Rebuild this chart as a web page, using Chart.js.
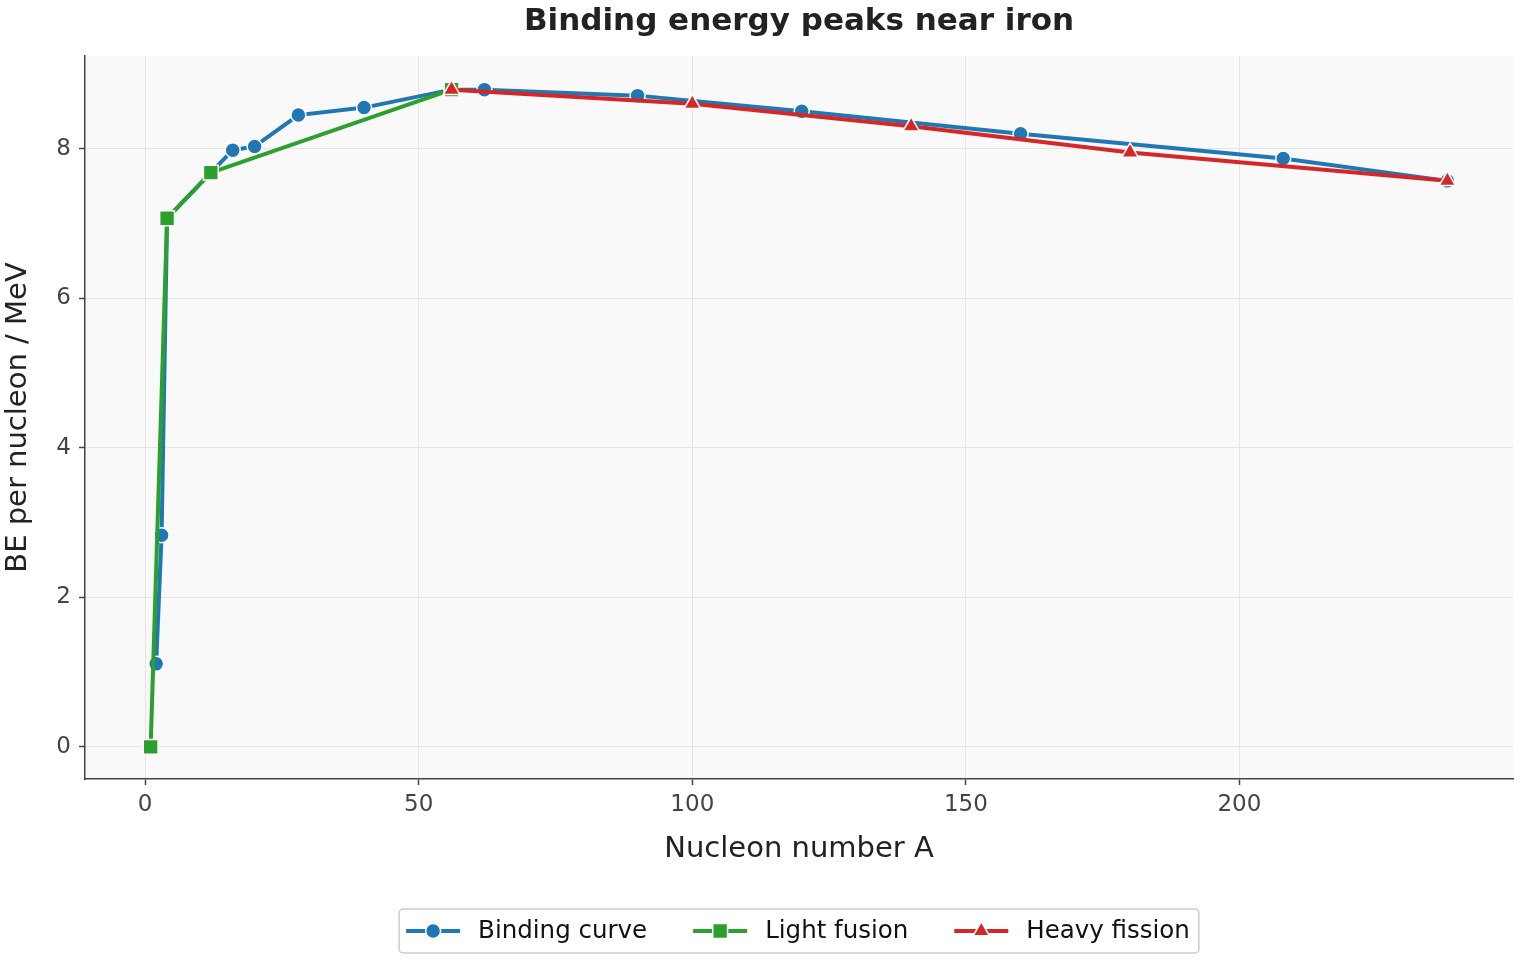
<!DOCTYPE html>
<html>
<head>
<meta charset="utf-8">
<script src="https://cdn.jsdelivr.net/npm/chart.js@4.4.1/dist/chart.umd.min.js"></script>
<style>
  html, body { margin: 0; padding: 0; background: #fff; }
</style>
</head>
<body>
<canvas id="chart1" width="1520" height="960"></canvas>
<script>
// data
const bindingA = [2, 3, 4, 12, 16, 20, 28, 40, 56, 62, 90, 120, 160, 208, 238]
const bindingBE = [1.11, 2.83, 7.07, 7.68, 7.98, 8.03, 8.45, 8.55, 8.79, 8.79, 8.71, 8.5, 8.2, 7.87, 7.57]
const fusionA = [1, 4, 12, 56]
const fusionBE = [0, 7.07, 7.68, 8.79]
const fissionA = [56, 100, 140, 180, 238]
const fissionBE = [8.79, 8.6, 8.3, 7.95, 7.57]
const xTicks = [0, 50, 100, 150, 200]
const yTicks = [0, 2, 4, 6, 8]

const FONT = "'DejaVu Sans', sans-serif"

function pts(xs, ys) {
    return xs.map((x, i) => ({ x: x, y: ys[i] }))
}

function drawMarker(ctx, style, x, y, r, color) {
    ctx.save()
    ctx.fillStyle = color
    ctx.strokeStyle = '#fff'
    ctx.lineWidth = 1.5
    ctx.beginPath()
    if (style == 'circle') {
        ctx.arc(x, y, r, 0, Math.PI * 2)
    } else if (style == 'rect') {
        const s = r * Math.SQRT1_2
        ctx.rect(x - s, y - s, 2 * s, 2 * s)
    } else {
        for (let k = 0; k < 3; k++) {
            const a = k * Math.PI * 2 / 3
            const px = x + Math.sin(a) * r
            const py = y - Math.cos(a) * r
            if (k == 0) ctx.moveTo(px, py); else ctx.lineTo(px, py)
        }
        ctx.closePath()
    }
    ctx.fill()
    ctx.stroke()
    ctx.restore()
}

// grey plot background
const plotBg = {
    id: 'plotBg',
    beforeDraw(chart) {
        const a = chart.chartArea
        const ctx = chart.ctx
        ctx.save()
        ctx.fillStyle = '#f9f9f9'
        ctx.fillRect(a.left, a.top, a.right - a.left, a.bottom - a.top)
        ctx.restore()
    }
}

// matplotlib style legend: line + marker, boxed
const boxLegend = {
    id: 'boxLegend',
    afterDraw(chart) {
        const ctx = chart.ctx
        const a = chart.chartArea
        ctx.save()
        ctx.font = '24.5px ' + FONT
        const lineW = 54, gapText = 18, gapItem = 46, padL = 7, padR = 9
        const items = chart.data.datasets.map(ds => ({ ds: ds, w: ctx.measureText(ds.label).width }))
        let total = padL + padR
        items.forEach((it, i) => { total += lineW + gapText + it.w + (i > 0 ? gapItem : 0) })
        const cx = (a.left + a.right) / 2
        const cy = 931
        const h = 44
        let x = cx - total / 2
        ctx.fillStyle = 'rgba(255,255,255,0.9)'
        ctx.strokeStyle = '#cccccc'
        ctx.lineWidth = 1.5
        ctx.beginPath()
        ctx.roundRect(x, cy - h / 2, total, h, 4)
        ctx.fill()
        ctx.stroke()
        x += padL
        items.forEach((it, i) => {
            if (i > 0) x += gapItem
            ctx.strokeStyle = it.ds.borderColor
            ctx.lineWidth = it.ds.borderWidth
            ctx.beginPath()
            ctx.moveTo(x, cy)
            ctx.lineTo(x + lineW, cy)
            ctx.stroke()
            drawMarker(ctx, it.ds.pointStyle, x + lineW / 2, cy, it.ds.pointRadius, it.ds.backgroundColor)
            x += lineW + gapText
            ctx.fillStyle = '#111'
            ctx.textBaseline = 'middle'
            ctx.textAlign = 'left'
            ctx.fillText(it.ds.label, x, cy + 1)
            x += it.w
        })
        ctx.restore()
    }
}

new Chart(document.getElementById('chart1'), {
    type: 'line',
    data: {
        datasets: [
            {
                label: 'Binding curve',
                data: pts(bindingA, bindingBE),
                borderColor: '#1f77b4',
                backgroundColor: '#1f77b4',
                borderWidth: 4,
                pointStyle: 'circle',
                pointRadius: 7.5,
                pointHoverRadius: 7.5,
                pointBorderColor: '#fff',
                pointBorderWidth: 1.5,
                order: 3
            },
            {
                label: 'Light fusion',
                data: pts(fusionA, fusionBE),
                borderColor: '#2ca02c',
                backgroundColor: '#2ca02c',
                borderWidth: 4,
                pointStyle: 'rect',
                pointRadius: 10.5,
                pointHoverRadius: 10.5,
                pointBorderColor: '#fff',
                pointBorderWidth: 1.5,
                order: 2
            },
            {
                label: 'Heavy fission',
                data: pts(fissionA, fissionBE),
                borderColor: '#d62728',
                backgroundColor: '#d62728',
                borderWidth: 4,
                pointStyle: 'triangle',
                pointRadius: 9.5,
                pointHoverRadius: 9.5,
                pointBorderColor: '#fff',
                pointBorderWidth: 1.5,
                order: 1
            }
        ]
    },
    options: {
        responsive: false,
        animation: false,
        devicePixelRatio: 1,
        layout: { autoPadding: false, padding: { top: 0, right: 7, bottom: 47, left: 0 } },
        elements: { line: { tension: 0 } },
        plugins: {
            legend: { display: false },
            tooltip: { enabled: false },
            title: {
                display: true,
                fullSize: false,
                text: 'Binding energy peaks near iron',
                color: '#222',
                font: { family: FONT, size: 31, weight: 'bold' },
                padding: { top: 3.5, bottom: 15.3 }
            }
        },
        scales: {
            x: {
                type: 'linear',
                min: -11,
                max: 250,
                afterBuildTicks: scale => { scale.ticks = xTicks.map(v => ({ value: v })) },
                afterFit: scale => {
                    scale.height = 134
                    scale.paddingLeft = 0
                    scale.paddingRight = 0
                },
                border: { display: true, color: '#444', width: 1.5 },
                grid: { color: '#e5e5e5', lineWidth: 1, drawTicks: true, tickLength: 6, tickColor: '#444', tickWidth: 1.5 },
                ticks: { color: '#444', font: { family: FONT, size: 23 }, padding: 6, maxRotation: 0 },
                title: {
                    display: true,
                    text: 'Nucleon number A',
                    color: '#222',
                    font: { family: FONT, size: 29 },
                    padding: { top: 0, bottom: 46.6 }
                }
            },
            y: {
                type: 'linear',
                min: -0.43,
                max: 9.24,
                afterBuildTicks: scale => { scale.ticks = yTicks.map(v => ({ value: v })) },
                afterFit: scale => { scale.width = 85 },
                border: { display: true, color: '#444', width: 1.5 },
                grid: { color: '#e5e5e5', lineWidth: 1, drawTicks: true, tickLength: 6, tickColor: '#444', tickWidth: 1.5 },
                ticks: { color: '#444', font: { family: FONT, size: 23 }, padding: 8 },
                title: {
                    display: true,
                    text: 'BE per nucleon / MeV',
                    color: '#222',
                    font: { family: FONT, size: 29 },
                    padding: { top: 1, bottom: 0 }
                }
            }
        }
    },
    plugins: [plotBg, boxLegend]
})
</script>
</body>
</html>
